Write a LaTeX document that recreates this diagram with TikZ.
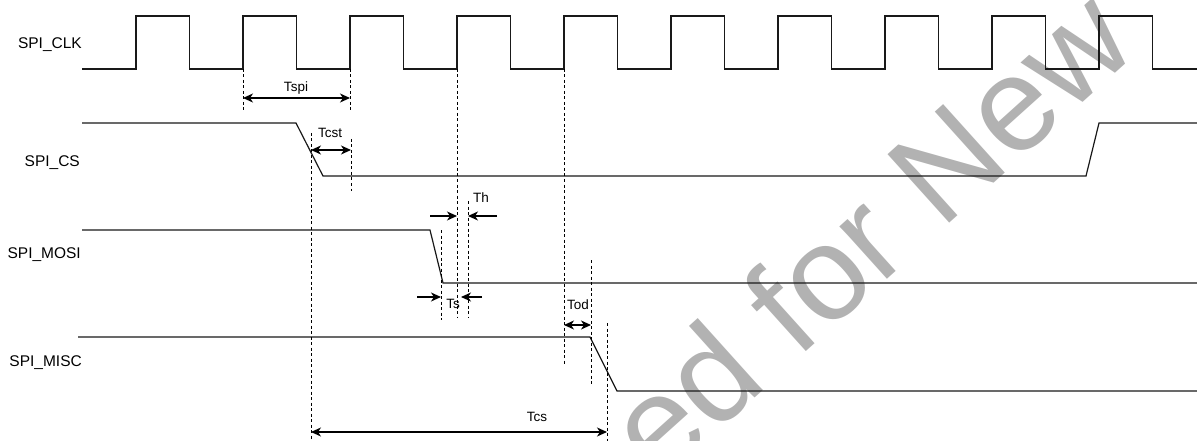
\documentclass[tikz,border=0pt]{standalone}
\usepackage{fontspec}
\setmainfont{Liberation Sans}
\usetikzlibrary{arrows.meta,positioning}

\begin{document}
\begin{tikzpicture}[x=1pt,y=-1pt,
every node/.style={inner sep=0pt},
sig/.style={line width=1.2pt,black!90},
guide/.style={line width=0.9pt,dash pattern=on 3pt off 2.5pt},
meas/.style={line width=1.1pt,{Stealth[length=10pt,width=9pt,inset=3pt]}-{Stealth[length=10pt,width=9pt,inset=3pt]}},
half/.style={line width=1.1pt,-{Stealth[length=10pt,width=9pt,inset=3pt]}},
signame/.style={anchor=east,font=\fontsize{15.5}{18}\selectfont},
tlab/.style={font=\fontsize{13.5}{16}\selectfont}]
\useasboundingbox (0,0) rectangle (1197,441);
% watermark
\begin{scope}
\clip (0,0) rectangle (1197,441);
\node[rotate=42,text=black!30,font=\fontsize{134}{134}\selectfont] (wm) at (868,232) {ed for New};
\end{scope}
% signal names
\node[signame] (clk) at (82,45) {SPI\_CLK};
\node[signame] (cs) at (80,163) {SPI\_CS};
\node[signame] (mosi) at (81,255) {SPI\_MOSI};
\node[signame] (miso) at (82,363) {SPI\_MISC};
% waveforms
\draw[sig] (82,69) \foreach \r in {136,243,350,457,564,671,778,885,992,1099}
  {-- (\r,69) -- (\r,16) -- ({\r+53.5},16) -- ({\r+53.5},69)} -- (1197,69);
\draw[sig] (82,123) -- (296,123) -- (323,176) -- (1086,176) -- (1099,123) -- (1197,123);
\draw[sig] (82,230) -- (430,230) -- (443,283) -- (1197,283);
\draw[sig] (78,337) -- (590,337) -- (617,391) -- (1197,391);
% guide lines
\coordinate (g1a) at (243,69);  \coordinate (g1b) at (243,110);
\coordinate (g2a) at (350,69);  \coordinate (g2b) at (350,110);
\coordinate (g3a) at (311,133); \coordinate (g3b) at (311,441);
\coordinate (g4a) at (351,139); \coordinate (g4b) at (351,191);
\coordinate (g5a) at (457,69);  \coordinate (g5b) at (457,318);
\coordinate (g6a) at (468,201); \coordinate (g6b) at (468,318);
\coordinate (g7a) at (441,230); \coordinate (g7b) at (441,320);
\coordinate (g8a) at (564,69);  \coordinate (g8b) at (564,364);
\coordinate (g9a) at (591,260); \coordinate (g9b) at (591,384);
\coordinate (g10a) at (607,323); \coordinate (g10b) at (607,441);
\foreach \g in {1,...,10} \draw[guide] (g\g a) -- (g\g b);
% timings
\coordinate (thL) at (430,216); \coordinate (thR) at (497,216);
\coordinate (tsL) at (417,297); \coordinate (tsR) at (482,297);
\draw[meas] (243,98) -- (350,98);
\draw[meas] (311,150) -- (351,150);
\draw[half] (thL) -- (457,216);
\draw[half] (thR) -- (468,216);
\draw[half] (tsL) -- (441,297);
\draw[half] (tsR) -- (461,297);
\draw[meas] (564,325) -- (591,325);
\draw[meas] (311,432) -- (607,432);
\node[tlab] (tspi) at (296,88) {Tspi};
\node[tlab] (tcst) at (330,133) {Tcst};
\node[tlab] (th) at (481,198) {Th};
\node[tlab] (ts) at (453,304) {Ts};
\node[tlab] (tod) at (578,305) {Tod};
\node[tlab] (tcs) at (537,417) {Tcs};
\end{tikzpicture}
\end{document}
